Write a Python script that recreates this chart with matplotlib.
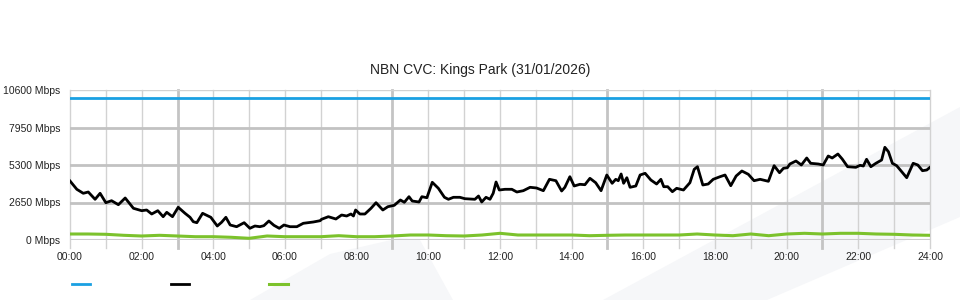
import matplotlib
matplotlib.use('Agg')
import matplotlib.pyplot as plt
from matplotlib.patches import Polygon

plt.rcParams['font.family'] = ['Liberation Sans', 'DejaVu Sans']

# data (hours since midnight, Mbps)
capacity_hours = [0, 24]
capacity_mbps = [10000, 10000]

used_hours = [0.00, 0.19, 0.37, 0.51, 0.70, 0.84, 1.00, 1.16, 1.35, 1.54, 1.77, 2.00, 2.14, 2.28,
              2.45, 2.60, 2.70, 2.86, 3.02, 3.21, 3.35, 3.44, 3.54, 3.70, 3.93, 4.11, 4.23, 4.35,
              4.47, 4.65, 4.86, 5.02, 5.16, 5.30, 5.41, 5.55, 5.69, 5.84, 5.97, 6.14, 6.33, 6.51,
              6.79, 6.98, 7.02, 7.21, 7.42, 7.58, 7.72, 7.84, 7.91, 7.97, 8.09, 8.23, 8.40, 8.54,
              8.73, 8.87, 9.05, 9.22, 9.33, 9.46, 9.55, 9.74, 9.82, 9.96, 10.11, 10.28, 10.45,
              10.56, 10.70, 10.88, 11.02, 11.16, 11.30, 11.40, 11.49, 11.61, 11.72, 11.81, 11.89,
              11.98, 12.14, 12.33, 12.47, 12.65, 12.84, 13.02, 13.21, 13.38, 13.56, 13.72, 13.81,
              13.95, 14.07, 14.23, 14.37, 14.51, 14.67, 14.82, 14.98, 15.13, 15.23, 15.30, 15.38,
              15.45, 15.54, 15.63, 15.79, 15.91, 16.05, 16.21, 16.37, 16.49, 16.57, 16.68, 16.81,
              16.93, 17.12, 17.30, 17.42, 17.51, 17.66, 17.81, 17.95, 18.14, 18.28, 18.44, 18.59,
              18.75, 18.93, 19.09, 19.26, 19.49, 19.65, 19.80, 19.91, 20.02, 20.09, 20.26, 20.41,
              20.56, 20.67, 20.88, 21.02, 21.16, 21.27, 21.43, 21.55, 21.70, 21.93, 22.05, 22.14,
              22.23, 22.35, 22.49, 22.65, 22.74, 22.84, 22.95, 23.07, 23.21, 23.35, 23.53, 23.66,
              23.79, 23.91, 24.00]
used_mbps = [4170, 3583, 3300, 3392, 2876, 3300, 2636, 2777, 2495, 2968, 2240, 2071, 2120, 1837,
             2071, 1647, 1957, 1647, 2311, 1887, 1604, 1293, 1223, 1887, 1604, 989, 1251, 1604,
             1060, 940, 1223, 827, 989, 940, 1011, 1343, 1039, 827, 1060, 940, 940, 1180,
             1272, 1364, 1463, 1647, 1484, 1767, 1696, 1837, 1696, 2120, 1837, 1837, 2240, 2636,
             2120, 2353, 2452, 2827, 2664, 3060, 2756, 2685, 3060, 2989, 4078, 3653, 3017,
             2876, 3017, 3017, 2919, 2897, 2876, 3109, 2685, 3017, 2876, 3300, 4099,
             3533, 3583, 3583, 3392, 3484, 3724, 3675, 3484, 4289, 4190, 3463, 3724,
             4473, 3816, 3936, 3908, 4360, 4049, 3484, 4593, 4007, 4289, 4190, 4664,
             4007, 4403, 3724, 3816, 4593, 4713, 4240, 3957, 4289, 3767, 3767, 3413,
             3653, 3533, 4049, 4996, 5180, 3887, 3957, 4289, 4473, 4593, 3837, 4523,
             4876, 4643, 4190, 4289, 4148, 5251, 4756, 5067, 5109, 5371, 5583, 5300,
             5795, 5420, 5371, 5300, 5936, 5795, 6077, 5724, 5180, 5137, 5279, 5229,
             5703, 5180, 5420, 5653, 6551, 6240, 5420, 5251, 4827, 4403, 5420, 5300,
             4897, 4947, 5137]

other_hours = [0.0, 0.5, 1.0, 1.5, 2.0, 2.5, 3.0, 3.5, 4.0, 4.5, 5.0, 5.5, 6.0, 6.5, 7.0, 7.5,
               8.0, 8.5, 9.0, 9.5, 10.0, 10.5, 11.0, 11.5, 12.0, 12.5, 13.0, 13.5, 14.0, 14.5,
               15.0, 15.5, 16.0, 16.5, 17.0, 17.5, 18.0, 18.5, 19.0, 19.5, 20.0, 20.5, 21.0,
               21.5, 22.0, 22.5, 23.0, 23.5, 24.0]
other_mbps = [424, 424, 403, 332, 283, 332, 283, 233, 233, 191, 120, 283, 233, 233, 233, 304,
              233, 233, 283, 353, 353, 304, 283, 353, 473, 353, 353, 353, 353, 304,
              332, 353, 353, 353, 353, 424, 353, 304, 424, 304, 424, 473, 424,
              473, 473, 424, 403, 353, 332]

yticks = [0, 2650, 5300, 7950, 10600]
ytick_labels = ['0 Mbps', '2650 Mbps', '5300 Mbps', '7950 Mbps', '10600 Mbps']
xticks = list(range(0, 25, 2))
xtick_labels = ['%02d:00' % h for h in xticks]

fig = plt.figure(figsize=(9.6, 3.0), dpi=100)

# faint background shapes
shade = '#f6f7f9'
for pts in ([(250, 300), (330, 254), (400, 238), (420, 240), (453, 300)],
            [(603, 300), (960, 107), (960, 217), (767, 300)]):
    fig.patches.append(Polygon([(x / 960, 1 - y / 300) for x, y in pts], closed=True,
                               transform=fig.transFigure, facecolor=shade,
                               edgecolor='none', zorder=-5))

ax = fig.add_axes([70 / 960, 0.2, 860 / 960, 0.5])
ax.set_zorder(2)
ax.set_facecolor('none')

# grid
for h in range(25):
    major = h % 6 == 3
    ax.axvline(h, ymin=-0.055, ymax=1, clip_on=False,
               color='#c4c4c4' if major else '#d2d2d2', lw=2 if major else 1, zorder=1)
for v in yticks[1:-1]:
    ax.axhline(v, color='#c2c2c2', lw=2, zorder=1)
ax.axhline(yticks[0], color='#cccccc', lw=1.5, zorder=1)
ax.axhline(yticks[-1], color='#d2d2d2', lw=1, zorder=1)

l1, = ax.plot(capacity_hours, capacity_mbps, color='#1aa0e2', lw=2, zorder=3)
l2, = ax.plot(used_hours, used_mbps, color='#000000', lw=2, zorder=3)
l3, = ax.plot(other_hours, other_mbps, color='#7cc22c', lw=2.2, zorder=3)

ax.set_xlim(0, 24)
ax.set_ylim(0, 10600)
ax.set_xticks(xticks)
ax.set_xticklabels(xtick_labels)
ax.set_yticks(yticks)
ax.set_yticklabels(ytick_labels)
ax.tick_params(axis='both', length=0, labelsize=7.5, colors='#222222')
ax.tick_params(axis='x', pad=9)
ax.tick_params(axis='y', pad=7)
for s in ax.spines.values():
    s.set_visible(False)

fig.text(0.5, 1 - 70 / 300, 'NBN CVC: Kings Park (31/01/2026)', ha='center', va='center',
         fontsize=10, color='#222222')

fig.legend([l1, l2, l3], [' ', ' ', ' '], loc='center left',
           bbox_to_anchor=(62 / 960, 1 - 285 / 300), ncol=3, frameon=False,
           fontsize=8, handlelength=1.65, handletextpad=0.1, columnspacing=6.85)

fig.savefig('out.png', dpi=100)
